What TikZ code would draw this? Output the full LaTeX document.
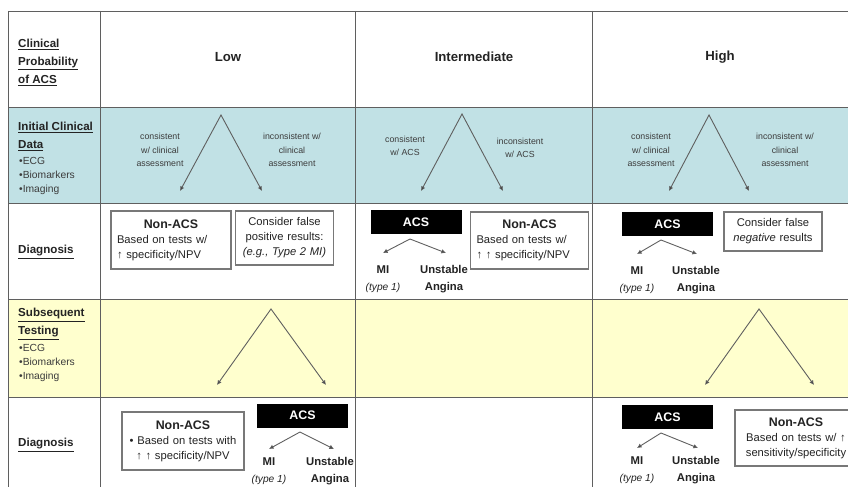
\documentclass[tikz,border=0pt]{standalone}
\usepackage{fontspec}
\setmainfont{Liberation Sans}
\usetikzlibrary{arrows.meta,positioning}
\definecolor{rowblue}{RGB}{193,225,229}
\definecolor{rowyellow}{RGB}{255,255,206}
\definecolor{gridgray}{RGB}{95,95,95}
\definecolor{txtgray}{RGB}{35,35,35}
\definecolor{lblgray}{RGB}{60,60,60}
\definecolor{boxgray}{RGB}{120,120,120}
\newcommand{\titlefont}{\fontsize{12.4}{17}\selectfont\bfseries}
\newcommand{\typefont}{\mdseries\itshape\fontsize{10.2}{12}\selectfont}

\begin{document}
\begin{tikzpicture}[x=1pt, y=-1pt, >={Latex[length=4.6pt,width=4.6pt,fill=black]},
  grid/.style={draw=gridgray, line width=0.9pt},
  colhead/.style={font=\fontsize{13.2}{15}\selectfont\bfseries, text=txtgray},
  rowhead/.style={anchor=west, align=left, inner sep=0pt, text=txtgray,
    font=\fontsize{11.6}{18}\selectfont\bfseries},
  bullets/.style={anchor=west, align=left, inner sep=0pt, text=lblgray,
    font=\fontsize{10.3}{14.3}\selectfont},
  forklbl/.style={align=center, inner sep=0pt, text=lblgray,
    font=\fontsize{8.8}{13.5}\selectfont},
  branch/.style={<->, draw=gridgray, line width=0.9pt},
  subarrow/.style={->, draw=gridgray, line width=0.9pt},
  infobox/.style={draw=boxgray, line width=1.1pt, fill=white, inner xsep=6pt,
    inner ysep=0pt, text=txtgray, font=\fontsize{11.2}{15}\selectfont},
  acsbox/.style={fill=black, text=white, inner sep=0pt, minimum width=91pt,
    minimum height=24pt, font=\fontsize{12.4}{14}\selectfont\bfseries},
  dx/.style={align=center, inner sep=0pt, text=txtgray,
    font=\fontsize{11.3}{17}\selectfont\bfseries}]

  \useasboundingbox (0,0) rectangle (848,487);

  % table
  \fill[rowblue] (8,107) rectangle (848,203);
  \fill[rowyellow] (8,299) rectangle (848,397);
  \draw[grid] (8,11) -- (848,11);
  \draw[grid] (8,107) -- (848,107);
  \draw[grid] (8,203) -- (848,203);
  \draw[grid] (8,299) -- (848,299);
  \draw[grid] (8,397) -- (848,397);
  \draw[grid] (8,11) -- (8,487);
  \draw[grid] (100,11) -- (100,487);
  \draw[grid] (355,11) -- (355,487);
  \draw[grid] (592,11) -- (592,487);

  % header row
  \node[rowhead] (probHead) at (18,62.5) {\underline{Clinical}\\\underline{Probability}\\\underline{of ACS}};
  \node[colhead] (low) at (228,57) {Low};
  \node[colhead] (mid) at (474,57) {Intermediate};
  \node[colhead] (high) at (720,57) {High};

  % initial clinical data
  \node[rowhead] (iniHead) at (18,136.5) {\underline{Initial Clinical}\\\underline{Data}};
  \node[bullets] (iniList) at (19,176) {•ECG\\•Biomarkers\\•Imaging};

  \coordinate (lowTop) at (221,115);
  \coordinate (lowL) at (180,191);
  \coordinate (lowR) at (262,191);
  \draw[branch] (lowL) -- (lowTop) -- (lowR);
  \node[forklbl] (lowCons) at (160,150) {consistent\\w/ clinical\\assessment};
  \node[forklbl] (lowIncons) at (292,150) {inconsistent w/\\clinical\\assessment};

  \coordinate (midTop) at (462,114);
  \coordinate (midL) at (421,191);
  \coordinate (midR) at (503,191);
  \draw[branch] (midL) -- (midTop) -- (midR);
  \node[forklbl] (midCons) at (405,146) {consistent\\w/ ACS};
  \node[forklbl] (midIncons) at (520,148) {inconsistent\\w/ ACS};

  \coordinate (highTop) at (709,115);
  \coordinate (highL) at (669,191);
  \coordinate (highR) at (749,191);
  \draw[branch] (highL) -- (highTop) -- (highR);
  \node[forklbl] (highCons) at (651,150) {consistent\\w/ clinical\\assessment};
  \node[forklbl] (highIncons) at (785,150) {inconsistent w/\\clinical\\assessment};

  % first diagnosis
  \node[rowhead] (dxHead) at (18,252) {\underline{Diagnosis}};

  \node[infobox, text width=108pt, minimum height=58pt, align=left] (lowNon) at (171,240)
    {{\centering\titlefont Non-ACS\par}Based on tests w/\\↑ specificity/NPV};
  \node[infobox, text width=86pt, minimum height=54pt, align=center] (lowFalse) at (284.5,238)
    {Consider false\\positive results:\\\textit{(e.g., Type 2 MI)}};

  \node[acsbox] (midAcs) at (416,222) {ACS};
  \node[dx] (midMi) at (383,279.5) {MI\\{\typefont (type 1)}};
  \node[dx] (midUa) at (444,279.5) {Unstable\\Angina};
  \coordinate (midFork) at (410,239);
  \draw[subarrow] (midFork) -- (383,253);
  \draw[subarrow] (midFork) -- (446,253);
  \node[infobox, text width=106pt, minimum height=57pt, align=left] (midNon) at (529.5,240.5)
    {{\centering\titlefont Non-ACS\par}Based on tests w/\\↑ ↑ specificity/NPV};

  \node[acsbox] (highAcs) at (667.5,224) {ACS};
  \node[dx] (highMi) at (637,280) {MI\\{\typefont (type 1)}};
  \node[dx] (highUa) at (696,280) {Unstable\\Angina};
  \coordinate (highFork) at (661,240);
  \draw[subarrow] (highFork) -- (637,254);
  \draw[subarrow] (highFork) -- (697,254);
  \node[infobox, text width=86pt, minimum height=39pt, align=center] (highFalse) at (773,231.5)
    {Consider false\\\textit{negative} results};

  % subsequent testing
  \node[rowhead] (subHead) at (18,324) {\underline{Subsequent}\\\underline{Testing}};
  \node[bullets] (subList) at (19,363) {•ECG\\•Biomarkers\\•Imaging};

  \coordinate (subLowTop) at (271,309);
  \coordinate (subLowL) at (217,385);
  \coordinate (subLowR) at (326,385);
  \draw[branch] (subLowL) -- (subLowTop) -- (subLowR);

  \coordinate (subHighTop) at (759,309);
  \coordinate (subHighL) at (705,385);
  \coordinate (subHighR) at (814,385);
  \draw[branch] (subHighL) -- (subHighTop) -- (subHighR);

  % second diagnosis
  \node[rowhead] (dxHeadB) at (18,445) {\underline{Diagnosis}};

  \node[infobox, text width=110pt, minimum height=58pt, align=center] (lowNonB) at (183,441)
    {{\titlefont Non-ACS}\\• Based on tests with\\↑ ↑ specificity/NPV};
  \node[acsbox] (lowAcsB) at (302.5,415.5) {ACS};
  \node[dx] (lowMiB) at (269,471) {MI\\{\typefont (type 1)}};
  \node[dx] (lowUaB) at (330,471) {Unstable\\Angina};
  \coordinate (lowForkB) at (300,432);
  \draw[subarrow] (lowForkB) -- (269,449);
  \draw[subarrow] (lowForkB) -- (334,449);

  \node[acsbox] (highAcsB) at (667.5,417) {ACS};
  \node[dx] (highMiB) at (637,470.5) {MI\\{\typefont (type 1)}};
  \node[dx] (highUaB) at (696,470.5) {Unstable\\Angina};
  \coordinate (highForkB) at (661,433);
  \draw[subarrow] (highForkB) -- (637,448);
  \draw[subarrow] (highForkB) -- (698,448);
  \node[infobox, text width=110pt, minimum height=56pt, align=center] (highNonB) at (796,438)
    {{\titlefont Non-ACS}\\Based on tests w/ ↑\\sensitivity/specificity};
\end{tikzpicture}
\end{document}
